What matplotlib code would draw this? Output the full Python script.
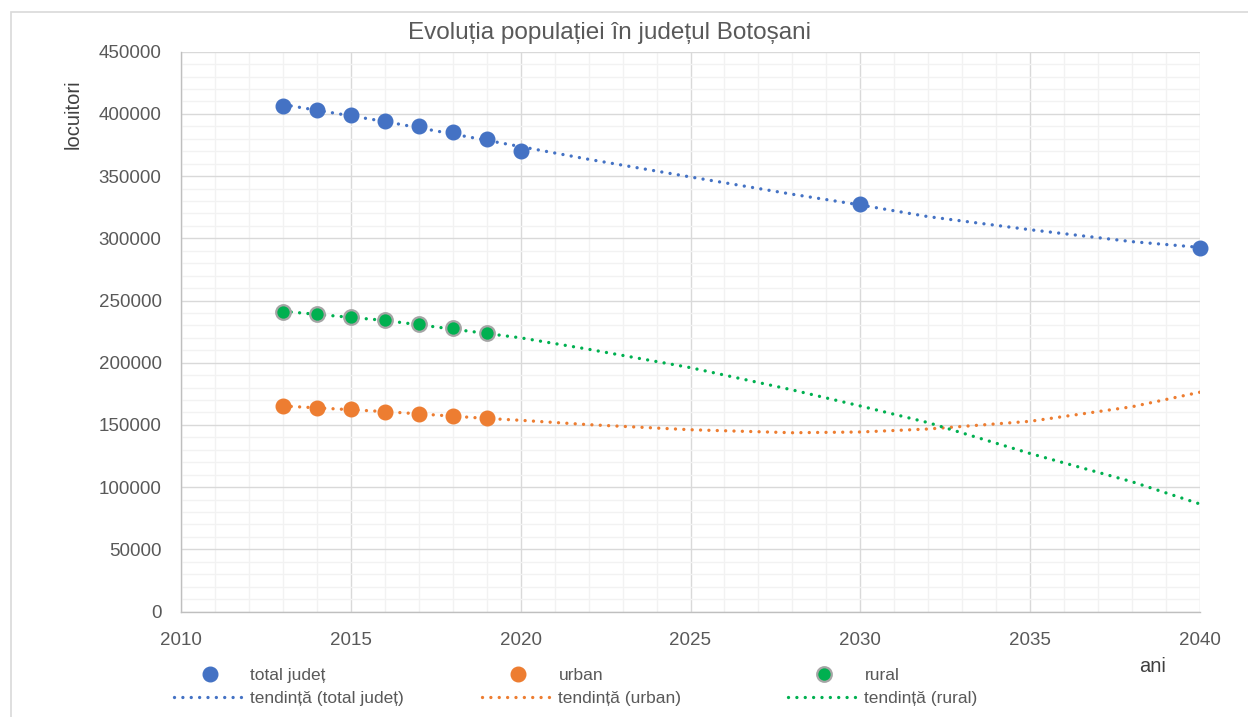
import matplotlib.pyplot as plt
from matplotlib.ticker import MultipleLocator, StrMethodFormatter
from matplotlib.patches import Rectangle

plt.rcParams['font.family'] = ['Liberation Sans', 'DejaVu Sans']

# Date (locuitori)
ani_total = [2013, 2014, 2015, 2016, 2017, 2018, 2019, 2020, 2030, 2040]
total_judet = [406400, 402900, 399400, 394500, 390300, 385200, 379600, 370200, 327300, 292400]

ani_mediu = [2013, 2014, 2015, 2016, 2017, 2018, 2019]
urban = [165200, 163800, 162500, 160600, 159000, 157200, 155300]
rural = [241000, 239100, 237000, 234100, 231100, 227900, 224100]

# Liniile de tendinta
ani_tendinta = [2013, 2016, 2019, 2020, 2022, 2025, 2028, 2030, 2032, 2035, 2038, 2040]
tendinta_total = [407500, 393900, 378800, 373700, 363500, 349300, 335400, 326800, 317400, 306900, 297300, 292700]
tendinta_urban = [165200, 160700, 155200, 153700, 150200, 146100, 143700, 144300, 146700, 152900, 164600, 176300]
tendinta_rural = [241300, 234000, 223500, 220000, 210800, 196000, 178100, 165200, 151800, 127000, 104300, 86400]

albastru = '#4472C4'
portocaliu = '#ED7D31'
verde = '#00B050'
text_gri = '#595959'

W, H = 1248, 717
fig = plt.figure(figsize=(W / 100, H / 100), dpi=100)

# chenarul zonei graficului
fig.patches.append(Rectangle((11 / W, -0.02), 1.05, 1 - 12 / H + 0.02, transform=fig.transFigure,
                             fill=False, edgecolor='#D9D9D9', linewidth=1.2))

left, right, top, bottom = 181, 1200, 51.7, 611.5
ax = fig.add_axes([left / W, (H - bottom) / H, (right - left) / W, (bottom - top) / H])

punct = dict(linestyle=(0, (0.01, 2.5)), linewidth=2.4, dash_capstyle='round')

l_tt, = ax.plot(ani_tendinta, tendinta_total, color=albastru, zorder=3, **punct)
l_tu, = ax.plot(ani_tendinta, tendinta_urban, color=portocaliu, zorder=3, **punct)
l_tr, = ax.plot(ani_tendinta, tendinta_rural, color=verde, zorder=3, **punct)

m_t, = ax.plot(ani_total, total_judet, 'o', color=albastru, markersize=10.5, zorder=4, clip_on=False)
m_u, = ax.plot(ani_mediu, urban, 'o', color=portocaliu, markersize=10.5, zorder=4, clip_on=False)
m_r, = ax.plot(ani_mediu, rural, 'o', color=verde, markeredgecolor='#A5A5A5', markeredgewidth=1.6,
               markersize=10.5, zorder=4, clip_on=False)

ax.set_xlim(2010, 2040)
ax.set_ylim(0, 450000)
ax.xaxis.set_major_locator(MultipleLocator(5))
ax.xaxis.set_minor_locator(MultipleLocator(1))
ax.yaxis.set_major_locator(MultipleLocator(50000))
ax.yaxis.set_minor_locator(MultipleLocator(10000))
ax.yaxis.set_major_formatter(StrMethodFormatter('{x:.0f}'))

ax.grid(True, which='major', color='#D9D9D9', linewidth=1.0)
ax.grid(True, which='minor', color='#F2F2F2', linewidth=1.0)
ax.set_axisbelow(True)

for s in ['top', 'right']:
    ax.spines[s].set_visible(False)
for s in ['left', 'bottom']:
    ax.spines[s].set_color('#BFBFBF')
    ax.spines[s].set_linewidth(1.0)

ax.tick_params(which='both', length=0, labelsize=13.5, labelcolor=text_gri)
ax.tick_params(axis='y', pad=14)
ax.tick_params(axis='x', pad=15)

# titlu si etichete
fig.text(609 / W, 1 - 33 / H, 'Evoluția populației în județul Botoșani', ha='center', va='center',
         fontsize=17.5, color=text_gri)
fig.text(73 / W, 1 - 114 / H, 'locuitori', rotation=90, ha='center', va='center',
         fontsize=14.5, color='#404040')
fig.text(1153 / W, 1 - 666 / H, 'ani', ha='center', va='center', fontsize=14.5, color='#404040')

# legenda pe trei coloane
coloane = [(174, [m_t, l_tt], ['total județ', 'tendință (total județ)']),
           (482, [m_u, l_tu], ['urban', 'tendință (urban)']),
           (788, [m_r, l_tr], ['rural', 'tendință (rural)'])]
for x0, handles, labels in coloane:
    fig.legend(handles, labels, loc='center left', bbox_to_anchor=(x0 / W, 1 - 687 / H),
               frameon=False, borderpad=0, borderaxespad=0, fontsize=12.5,
               handlelength=4.1, handletextpad=0.3, labelspacing=0.45, labelcolor=text_gri)

fig.savefig('out.png', dpi=100)
